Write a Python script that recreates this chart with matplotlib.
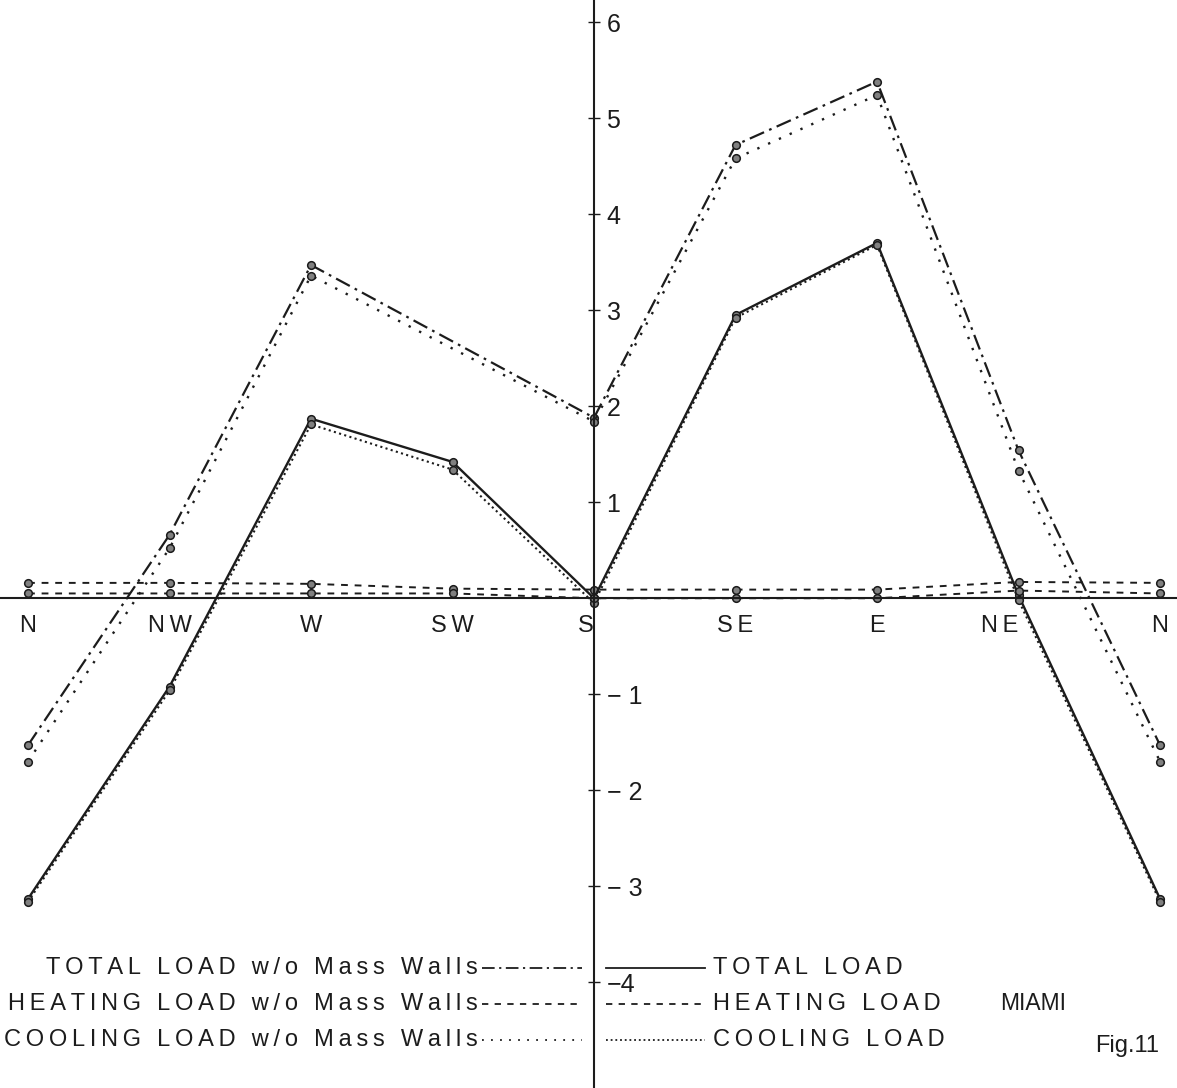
#!/usr/bin/env python3
"""Fig.11 - load by wall orientation, MIAMI (with / without mass walls)."""
import matplotlib
matplotlib.use("Agg")
import matplotlib.pyplot as plt
from matplotlib.lines import Line2D

plt.rcParams["font.family"] = ["Liberation Sans", "DejaVu Sans"]

# orientations around the compass, N repeated at the end
DIRS = ["N", "NW", "W", "SW", "S", "SE", "E", "NE", "N"]
POS = list(range(len(DIRS)))
POS_WO = [0, 1, 2, 4, 5, 6, 7, 8]          # w/o mass walls: no SW point

TOTAL = [-3.13, -0.92, 1.87, 1.42, 0.00, 2.95, 3.70, 0.03, -3.13]
COOLING = [-3.16, -0.96, 1.81, 1.34, -0.05, 2.92, 3.68, -0.02, -3.16]
HEATING = [0.05, 0.05, 0.05, 0.05, 0.00, 0.00, 0.00, 0.08, 0.05]

TOTAL_WO = [-1.53, 0.66, 3.47, 1.88, 4.72, 5.38, 1.54, -1.53]
COOLING_WO = [-1.70, 0.52, 3.36, 1.84, 4.58, 5.24, 1.33, -1.70]
HEATING_WO = [0.16, 0.16, 0.15, 0.10, 0.09, 0.09, 0.09, 0.17, 0.16]

YTICKS = [-4, -3, -2, -1, 0, 1, 2, 3, 4, 5, 6]
YLABELS = ["\u22124", "\u2212 3", "\u2212 2", "\u2212 1", "", "1", "2", "3", "4", "5", "6"]

DASHDOT = (0, (7, 2.5, 1.2, 2.5))
DASHED = (0, (3.5, 3.5))
DOT_WIDE = (0, (1, 4))
DOT_FINE = (0, (1, 1.6))
INK = "#1c1c1c"

W, H = 1177, 1088
fig = plt.figure(figsize=(W / 100, H / 100), dpi=100)
ax = fig.add_axes([0, 0, 1, 1])
ax.set_facecolor("white")

mk = dict(marker="o", markersize=5.5, markerfacecolor="#808080",
          markeredgecolor="#1a1a1a", markeredgewidth=1.1, color=INK)

ax.plot(POS_WO, TOTAL_WO, linestyle=DASHDOT, linewidth=1.6, **mk)
ax.plot(POS_WO, COOLING_WO, linestyle=DOT_WIDE, linewidth=1.7, **mk)
ax.plot(POS, HEATING_WO, linestyle=DASHED, linewidth=1.4, **mk)
ax.plot(POS, TOTAL, linestyle="-", linewidth=1.7, **mk)
ax.plot(POS, COOLING, linestyle=DOT_FINE, linewidth=1.5, **mk)
ax.plot(POS, HEATING, linestyle=DASHED, linewidth=1.4, **mk)

ax.set_xlim(-0.198, 8.12)
ax.set_ylim(-5.10, 6.23)

# axes: horizontal zero line, vertical axis through S
for s in ("left", "top"):
    ax.spines[s].set_visible(False)
ax.spines["bottom"].set_position(("data", 0))
ax.spines["right"].set_position(("data", 4))
ax.spines["bottom"].set_linewidth(1.5)
ax.spines["right"].set_linewidth(1.5)
ax.spines["bottom"].set_color(INK)
ax.spines["right"].set_color(INK)

ax.yaxis.tick_right()
ax.set_yticks(YTICKS)
ax.set_yticklabels(YLABELS)
ax.tick_params(axis="y", direction="inout", length=8, width=1, pad=5,
               labelsize=18, colors=INK)


def spaced(s):
    return "\u2009".join(s)


ax.set_xticks(POS)
ax.set_xticklabels([spaced(d) for d in DIRS])
ax.tick_params(axis="x", length=0, pad=12, labelsize=17, colors=INK)
for lab, d in zip(ax.get_xticklabels(), DIRS):
    if d in ("S", "NE"):
        lab.set_horizontalalignment("right")


# legend (figure pixel coords)
def fx(px):
    return px / W


def fy(px):
    return 1 - px / H


rows = [968, 1004, 1040]
left_items = [("TOTAL LOAD w/o Mass Walls", DASHDOT),
              ("HEATING LOAD w/o Mass Walls", DASHED),
              ("COOLING LOAD w/o Mass Walls", DOT_WIDE)]
right_items = [("TOTAL LOAD", "-"),
               ("HEATING LOAD", DASHED),
               ("COOLING LOAD", DOT_FINE)]

for y, (txt, ls) in zip(rows, left_items):
    fig.text(fx(478), fy(y), spaced(txt), ha="right", va="center",
             fontsize=17, color=INK)
    fig.add_artist(Line2D([fx(482), fx(582)], [fy(y), fy(y)], linestyle=ls,
                          linewidth=1.3, color=INK))

for y, (txt, ls) in zip(rows, right_items):
    fig.add_artist(Line2D([fx(606), fx(705)], [fy(y), fy(y)], linestyle=ls,
                          linewidth=1.3, color=INK))
    fig.text(fx(713), fy(y), spaced(txt), ha="left", va="center",
             fontsize=17, color=INK)

fig.text(fx(1000), fy(1004), "MIAMI", ha="left", va="center",
         fontsize=16.5, color=INK)
fig.text(fx(1095), fy(1046), "Fig.11", ha="left", va="center",
         fontsize=17, color=INK)

fig.savefig("out.png", dpi=100, facecolor="white")
